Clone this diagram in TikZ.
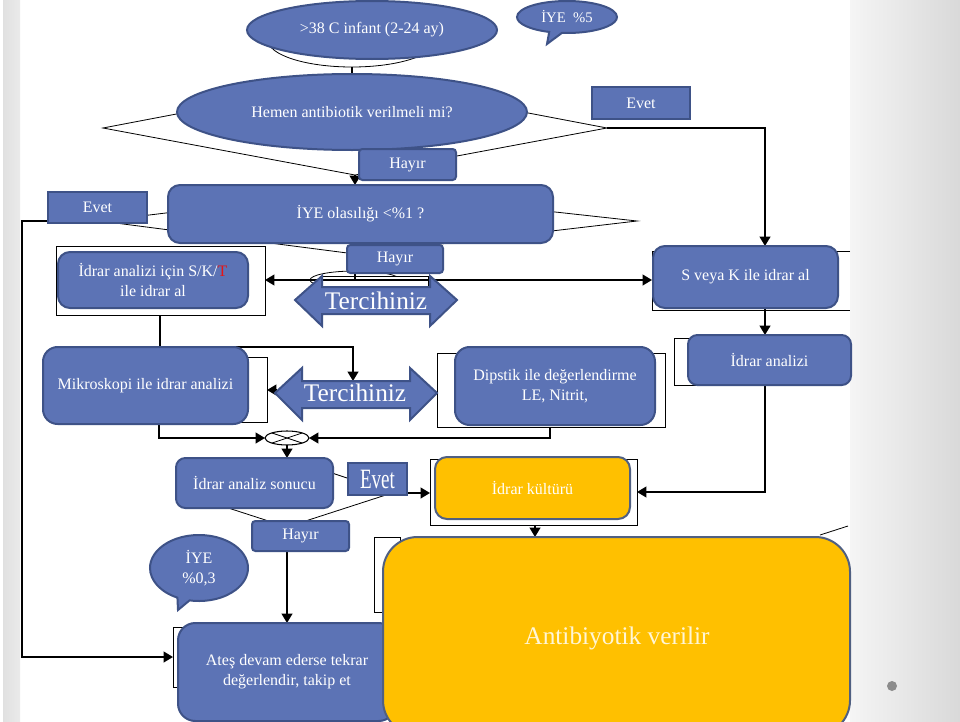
\documentclass[tikz,border=0pt]{standalone}
\usepackage{fontspec}
\usepackage{graphicx}
\setmainfont{Liberation Serif}
\usetikzlibrary{shapes.geometric,shapes.callouts,arrows.meta,calc}
\definecolor{bfill}{RGB}{92,115,181}
\definecolor{bdraw}{RGB}{62,82,135}
\definecolor{yfill}{RGB}{255,192,0}
\definecolor{ydraw}{RGB}{80,96,130}
\definecolor{txtred}{RGB}{230,20,20}
\definecolor{dotgray}{RGB}{140,140,140}
\definecolor{cream}{RGB}{255,246,214}
\begin{document}
\begin{tikzpicture}[x=0.75pt,y=-0.75pt,
  bluebox/.style={draw=bdraw, line width=1.5pt, fill=bfill, text=white, rounded corners=9pt,
    font=\fontsize{12}{15}\selectfont, align=center, inner sep=0pt},
  yellowbox/.style={bluebox, draw=ydraw, fill=yfill},
  tagbox/.style={bluebox, rounded corners=2.5pt},
  sqbox/.style={bluebox, rounded corners=0pt},
  blueell/.style={draw=bdraw, line width=1.5pt, fill=bfill, text=white, ellipse,
    font=\fontsize{12}{15}\selectfont, align=center, inner sep=0pt},
  bluecall/.style={draw=bdraw, line width=1.5pt, fill=bfill, text=white, ellipse callout,
    font=\fontsize{12}{15}\selectfont, align=center, inner sep=0pt},
  bluepoly/.style={draw=bdraw, line width=1.5pt, fill=bfill},
  outl/.style={draw=black, line width=0.6pt, fill=white},
  thinl/.style={draw=black, line width=0.6pt},
  plainline/.style={draw=black, line width=1.4pt},
  conn/.style={draw=black, line width=1.4pt, -{Triangle[width=8pt,length=7pt]}},
  bigtxt/.style={text=white, font=\fontsize{19}{22}\selectfont, inner sep=0pt}
]
\useasboundingbox (0,0) rectangle (960,721);
\clip (0,0) rectangle (960,721);
\fill[white] (0,0) rectangle (960,721);
% background panels
\shade[left color=black!12, right color=black!8] (3,0) rectangle (20,721);
\shade[left color=black!4, right color=black!15] (850,0) rectangle (960,721);
\fill[dotgray] (892,686) circle (5);

% coordinates
\coordinate (d1l) at (103,128); \coordinate (d1t) at (355,80);
\coordinate (d1r) at (607,128); \coordinate (d1b) at (355,175);
\coordinate (d2l) at (100,221); \coordinate (d2t) at (355,190);
\coordinate (d2r) at (637,221); \coordinate (d2b) at (355,254);
\coordinate (d3l) at (182,493); \coordinate (d3t) at (287,458);
\coordinate (d3r) at (392,493); \coordinate (d3b) at (287,527);
\coordinate (colR) at (765,128);
\coordinate (lc) at (22,221);
\coordinate (atesin) at (173,657);
\coordinate (J) at (355,280);
\coordinate (idrin) at (265,280);
\coordinate (c160) at (160,315); \coordinate (c160b) at (160,347);
\coordinate (tshaft2) at (353,381);
\coordinate (kulturin) at (637,492);
\coordinate (t2l) at (277,390); \coordinate (mikout) at (267,390);
\coordinate (c159) at (159,424); \coordinate (c550) at (550,427);
\coordinate (kultwest) at (430,493);
\coordinate (kultsouth) at (535,525);

% background outlines
\draw[outl] (352,40) ellipse (84 and 27);
\draw[outl] (d1l) -- (d1t) -- (d1r) -- (d1b) -- cycle;
\draw[outl] (d2l) -- (d2t) -- (d2r) -- (d2b) -- cycle;
\draw[outl] (d3l) -- (d3t) -- (d3r) -- (d3b) -- cycle;
\draw[outl] (56,246) rectangle (265,315);
\draw[thinl] (850,251) -- (652,251) -- (652,310) -- (850,310);
\draw[outl] (674,338) rectangle (700,385);
\draw[outl] (230,357) rectangle (267,422);
\draw[outl] (437,353) rectangle (665,427);
\draw[outl] (430,459) rectangle (637,525);
\draw[outl] (173,627) rectangle (190,687);
\draw[outl] (374,537) rectangle (400,612);
\draw[thinl] (355,280) ellipse (45 and 9);
\draw[outl] (322,276) rectangle (428,287);
\draw[thinl] (820,535) -- (848,526);

% connectors
\draw[plainline] (352,67) -- (352,74);
\draw[conn] (d1r) -- (colR) -- (colR |- 0,246);
\draw[conn] (d1b) -- (355,185);
\draw[conn] (d2l) -- (lc) |- (atesin);
\draw[plainline] (d2b) -- (J);
\draw[conn] (J) -- (idrin);
\draw[conn] (J) -- (652,280);
\draw[plainline] (c160) -- (c160b);
\draw[conn] (c160b) -| (tshaft2);
\draw[conn] (765,309) -- (765,335);
\draw[conn] (765,385) |- (kulturin);
\draw[conn] (t2l) -- (mikout);
\draw[conn] (c159) |- (265,438);
\draw[conn] (c550) |- (309,438);
\draw[conn] (287,445) -- (287,458);
\draw[conn] (d3r) -- (kultwest);
\draw[conn] (kultsouth) -- (535,537);
\draw[conn] (d3b) -- (287,623);

% crossed circle
\node[draw=black, line width=0.8pt, fill=white, ellipse, minimum width=33pt, minimum height=10.5pt, inner sep=0pt] (xcirc) at (287,438) {};
\draw[thinl] ($(xcirc.center)+(-15,-5)$) -- ($(xcirc.center)+(15,5)$);
\draw[thinl] ($(xcirc.center)+(-15,5)$) -- ($(xcirc.center)+(15,-5)$);

% blue shapes
\node[blueell, minimum width=187.5pt, minimum height=43.5pt] (top) at (372,30) {>38 C infant (2-24 ay)};
\node[bluecall, minimum width=75pt, minimum height=24pt, callout absolute pointer={(547,44)}] (iye5) at (567,17) {\fontsize{11}{13}\selectfont İYE \ \%5};
\node[blueell, minimum width=262.5pt, minimum height=57pt] (hemen) at (352,112) {Hemen antibiotik verilmeli mi?};
\node[tagbox, minimum width=72.75pt, minimum height=23.25pt] (hayir1) at (407.5,164.5) {Hayır};
\node[sqbox, minimum width=73.5pt, minimum height=24pt] (evet1) at (641,103) {Evet};
\node[bluebox, minimum width=288.75pt, minimum height=43.5pt] (iyeol) at (360.5,214) {İYE olasılığı <\%1 ?};
\node[sqbox, minimum width=74.25pt, minimum height=23.25pt] (evet2) at (97.5,207.5) {Evet};
\node[tagbox, minimum width=72pt, minimum height=21pt] (hayir2) at (395,259) {Hayır};
\node[bluebox, minimum width=142.5pt, minimum height=42pt] (idricin) at (153,280) {İdrar analizi için S/K/\textcolor{txtred}{T}\\ile idrar al};
\node[bluebox, minimum width=138.75pt, minimum height=46.5pt] (sveya) at (745.5,277) {S veya K ile idrar al};
\node[bluebox, rounded corners=7pt, minimum width=122.25pt, minimum height=37.5pt] (idranaliz) at (769.5,360) {İdrar analizi};
\node[bluebox, rounded corners=11pt, minimum width=153.75pt, minimum height=57.75pt] (mikro) at (145.5,385.5) {Mikroskopi ile idrar analizi};
\node[bluebox, rounded corners=11pt, minimum width=150pt, minimum height=58.5pt] (dipstik) at (555,386) {Dipstik ile değerlendirme\\LE, Nitrit,};
\node[bluebox, rounded corners=7pt, minimum width=117.75pt, minimum height=37.5pt] (sonuc) at (254.5,483) {İdrar analiz sonucu};
\node[sqbox, minimum width=44.25pt, minimum height=24pt] (evet3) at (377.5,479) {\fontsize{21}{21}\selectfont\scalebox{0.68}[1]{Evet}};
\node[yellowbox, minimum width=146.25pt, minimum height=46.5pt] (kultur) at (532.5,488) {İdrar kültürü};
\node[tagbox, minimum width=72.75pt, minimum height=22.5pt] (hayir3) at (300.5,536) {Hayır};
\node[bluecall, minimum width=73.5pt, minimum height=49.5pt, callout absolute pointer={(178,610)}] (iye03) at (199,568) {İYE\\\%0,3};
\node[bluebox, rounded corners=13pt, minimum width=163.5pt, minimum height=73.5pt] (ates) at (287,672) {Ateş devam ederse tekrar\\değerlendir, takip et};
\node[yellowbox, rounded corners=26pt, minimum width=350.25pt, minimum height=148.5pt] (antib) at (616.5,636) {};
\node[bigtxt, text=cream] (antibtxt) at (617,638) {Antibiyotik verilir};

% Tercihiniz double arrows
\draw[bluepoly] (295,300) -- (322,276) -- (322,287) -- (430,287) -- (430,276) -- (457,300)
  -- (430,326) -- (430,314) -- (322,314) -- (322,326) -- cycle;
\node[bigtxt] (terc1) at (376,301) {Tercihiniz};
\draw[bluepoly] (275,393) -- (302,368) -- (302,381) -- (410,381) -- (410,368) -- (437,393)
  -- (410,420) -- (410,408) -- (302,408) -- (302,420) -- cycle;
\node[bigtxt] (terc2) at (355,393) {Tercihiniz};
\end{tikzpicture}
\end{document}
